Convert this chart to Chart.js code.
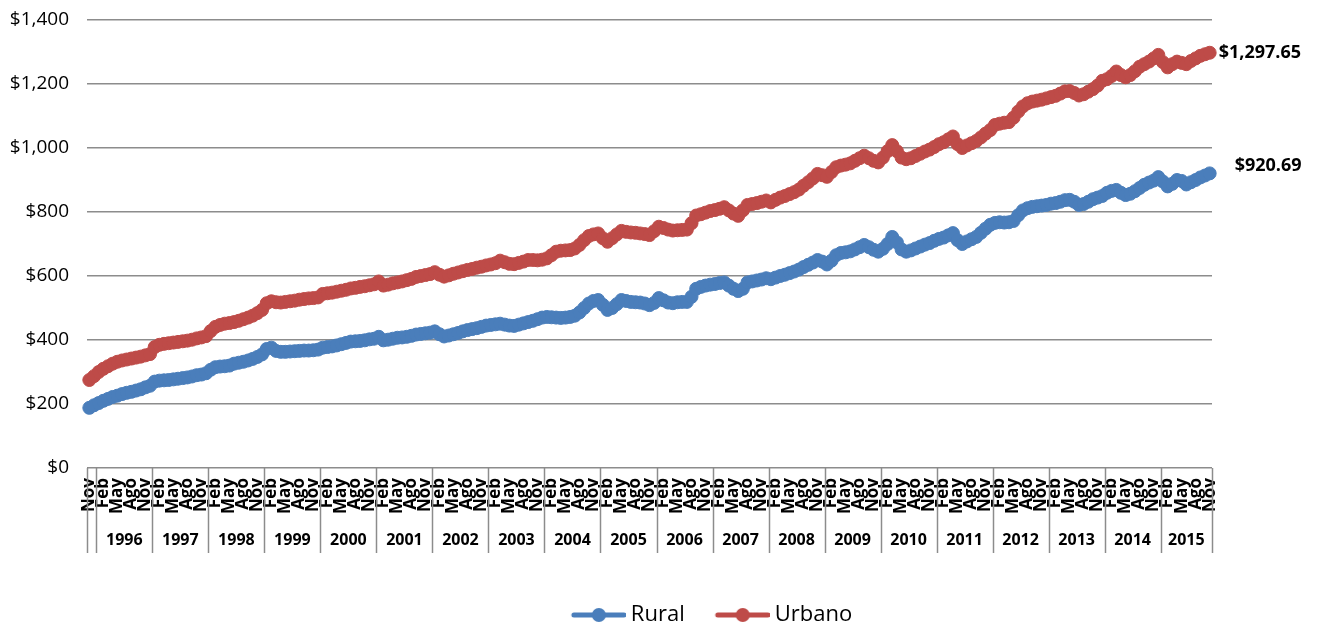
<!DOCTYPE html>
<html>
<head>
<meta charset="utf-8">
<script src="https://cdn.jsdelivr.net/npm/chart.js@4.4.1/dist/chart.umd.min.js"></script>
<style>
  body { margin: 0; background: #fff; }
  canvas { display: block; }
</style>
</head>
<body>
<canvas id="chart" width="1319" height="626"></canvas>
<script>
// --- Rural vs Urbano, monthly Nov 1995 - Nov 2015 ---

const monthNames = ['Ene', 'Feb', 'Mar', 'Abr', 'May', 'Jun', 'Jul', 'Ago', 'Sep', 'Oct', 'Nov', 'Dic'];
const years = ['1996', '1997', '1998', '1999', '2000', '2001', '2002', '2003', '2004', '2005',
               '2006', '2007', '2008', '2009', '2010', '2011', '2012', '2013', '2014', '2015'];

const rural = [
    188, 196, // 1995 Nov-Dic
    203, 210, 216, 222, 226, 231, 235, 238, 242, 246, 252, 257, // 1996
    270, 273, 274, 275, 277, 279, 281, 283, 286, 290, 292, 296, // 1997
    307, 315, 317, 318, 320, 326, 329, 332, 336, 341, 347, 355, // 1998
    372, 376, 366, 363, 363, 364, 365, 366, 367, 367, 368, 370, // 1999
    376, 378, 380, 383, 387, 391, 395, 396, 397, 399, 402, 404, // 2000
    410, 399, 401, 404, 407, 408, 410, 413, 417, 419, 421, 423, // 2001
    427, 418, 411, 414, 418, 422, 427, 431, 434, 437, 441, 445, // 2002
    447, 449, 451, 448, 445, 444, 448, 452, 456, 460, 465, 470, // 2003
    472, 471, 470, 469, 470, 472, 476, 486, 500, 514, 522, 525, // 2004
    510, 494, 500, 512, 525, 522, 519, 518, 517, 514, 509, 516, // 2005
    531, 524, 517, 515, 518, 519, 519, 535, 560, 566, 570, 573, // 2006
    575, 578, 580, 570, 560, 553, 560, 580, 583, 586, 589, 593, // 2007
    590, 595, 600, 604, 609, 614, 620, 628, 635, 642, 650, 645, // 2008
    636, 648, 665, 672, 674, 677, 683, 690, 697, 690, 682, 676, // 2009
    685, 700, 722, 705, 683, 676, 680, 686, 692, 698, 703, 710, // 2010
    716, 720, 727, 734, 712, 700, 708, 715, 722, 735, 748, 760, // 2011
    766, 768, 767, 768, 772, 790, 805, 812, 816, 818, 820, 822, // 2012
    826, 828, 832, 837, 838, 832, 822, 825, 832, 840, 845, 850, // 2013
    860, 866, 869, 860, 853, 857, 865, 875, 885, 892, 898, 909, // 2014
    895, 880, 888, 900, 897, 886, 893, 900, 908, 914, 920.69      // 2015 Ene-Nov
];

const urbano = [
    275, 287, // 1995 Nov-Dic
    300, 310, 318, 326, 332, 336, 339, 342, 345, 348, 352, 356, // 1996
    378, 385, 388, 390, 392, 394, 396, 398, 401, 405, 408, 412, // 1997
    428, 441, 447, 451, 453, 456, 460, 465, 470, 476, 484, 494, // 1998
    515, 521, 518, 517, 519, 521, 523, 526, 528, 530, 531, 533, // 1999
    544, 546, 548, 551, 554, 557, 561, 563, 566, 568, 571, 574, // 2000
    583, 570, 573, 577, 580, 583, 587, 591, 597, 600, 603, 606, // 2001
    612, 604, 598, 602, 607, 611, 615, 619, 622, 626, 629, 633, // 2002
    636, 640, 648, 643, 638, 637, 641, 645, 650, 650, 649, 651, // 2003
    655, 665, 676, 679, 680, 681, 686, 697, 712, 725, 730, 733, // 2004
    718, 707, 718, 730, 741, 738, 736, 735, 733, 731, 728, 740, // 2005
    754, 750, 745, 742, 743, 744, 745, 765, 789, 793, 798, 803, // 2006
    806, 810, 815, 805, 795, 788, 805, 822, 825, 828, 832, 836, // 2007
    830, 838, 845, 850, 856, 862, 870, 882, 893, 905, 919, 915, // 2008
    910, 925, 940, 945, 948, 952, 960, 968, 976, 968, 960, 955, // 2009
    970, 990, 1009, 990, 970, 965, 968, 975, 982, 989, 995, 1003, // 2010
    1012, 1018, 1027, 1036, 1012, 1000, 1008, 1015, 1022, 1033, 1045, 1056, // 2011
    1072, 1076, 1079, 1081, 1095, 1114, 1130, 1140, 1145, 1148, 1151, 1155, // 2012
    1159, 1163, 1170, 1177, 1178, 1172, 1164, 1168, 1176, 1184, 1195, 1210, // 2013
    1215, 1225, 1239, 1228, 1221, 1228, 1240, 1254, 1262, 1270, 1280, 1291, // 2014
    1268, 1252, 1262, 1270, 1266, 1262, 1272, 1280, 1288, 1293, 1297.65     // 2015 Ene-Nov
];

// month labels, starting at Nov 1995
const labels = rural.map((_, k) => monthNames[(10 + k) % 12]);

const BLUE = '#4A7EBB';
const RED = '#BE4B48';
const GRID = '#8c8c8c';
const FONT = '"Open Sans", "Noto Sans", sans-serif';

// legend marker: line with a dot in the middle
function legendMarker(color) {
    const c = document.createElement('canvas');
    c.width = 60;
    c.height = 16;
    const g = c.getContext('2d');
    g.strokeStyle = color;
    g.lineWidth = 5;
    g.lineCap = 'round';
    g.beginPath();
    g.moveTo(8, 8);
    g.lineTo(58, 8);
    g.stroke();
    g.fillStyle = color;
    g.beginPath();
    g.arc(33, 8, 7, 0, Math.PI * 2);
    g.fill();
    return c;
}

// year row under the month labels + separators
const yearAxisPlugin = {
    id: 'yearAxis',
    afterDraw(chart) {
        const ctx = chart.ctx;
        const xs = chart.scales.x;
        const top = chart.chartArea.bottom;
        const bottom = top + 85;
        const step = xs.getPixelForValue(1) - xs.getPixelForValue(0);
        const edge = i => xs.getPixelForValue(i) - step / 2;

        ctx.save();
        ctx.strokeStyle = GRID;
        ctx.lineWidth = 1.5;
        const bounds = [0];
        years.forEach((y, n) => bounds.push(2 + n * 12));
        bounds.push(labels.length);
        bounds.forEach(i => {
            const x = Math.round(edge(i)) + 0.5;
            ctx.beginPath();
            ctx.moveTo(x, top);
            ctx.lineTo(x, bottom);
            ctx.stroke();
        });

        ctx.fillStyle = '#000';
        ctx.font = 'bold 16px ' + FONT;
        ctx.textAlign = 'center';
        ctx.textBaseline = 'middle';
        years.forEach((y, n) => {
            const a = 2 + n * 12;
            const b = Math.min(a + 12, labels.length);
            ctx.fillText(y, (edge(a) + edge(b)) / 2, top + 72);
        });
        ctx.restore();
    }
};

// value labels at the last point of each line
const endLabelPlugin = {
    id: 'endLabels',
    afterDatasetsDraw(chart) {
        const ctx = chart.ctx;
        const offsets = [[25, -8], [9, 0]];
        ctx.save();
        ctx.font = 'bold 18px ' + FONT;
        ctx.fillStyle = '#000';
        ctx.textAlign = 'left';
        ctx.textBaseline = 'middle';
        chart.data.datasets.forEach((ds, d) => {
            const meta = chart.getDatasetMeta(d);
            const pt = meta.data[meta.data.length - 1];
            const v = ds.data[ds.data.length - 1];
            const txt = '$' + v.toLocaleString('en-US', { minimumFractionDigits: 2, maximumFractionDigits: 2 });
            ctx.fillText(txt, pt.x + offsets[d][0], pt.y + offsets[d][1]);
        });
        ctx.restore();
    }
};

// move the legend where the original sits
const legendShiftPlugin = {
    id: 'legendShift',
    afterLayout(chart) {
        const lg = chart.legend;
        if (!lg) return;
        lg.left += 106;
        lg.right += 106;
        lg.top += 10;
        lg.bottom += 10;
    }
};

new Chart(document.getElementById('chart'), {
    type: 'line',
    data: {
        labels: labels,
        datasets: [
            {
                label: 'Rural',
                data: rural,
                borderColor: BLUE,
                backgroundColor: BLUE,
                borderWidth: 6,
                pointRadius: 6.5,
                pointBorderWidth: 1,
                pointBackgroundColor: BLUE,
                pointBorderColor: BLUE,
                tension: 0
            },
            {
                label: 'Urbano',
                data: urbano,
                borderColor: RED,
                backgroundColor: RED,
                borderWidth: 6,
                pointRadius: 6.5,
                pointBorderWidth: 1,
                pointBackgroundColor: RED,
                pointBorderColor: RED,
                tension: 0
            }
        ]
    },
    options: {
        responsive: false,
        animation: false,
        devicePixelRatio: 1,
        layout: { padding: { top: 20, right: 107, bottom: 0, left: 0 } },
        scales: {
            x: {
                type: 'category',
                offset: true,
                grid: { display: false, drawTicks: false },
                border: { display: false },
                ticks: {
                    autoSkip: false,
                    minRotation: 90,
                    maxRotation: 90,
                    padding: 10,
                    color: '#000',
                    font: { family: FONT, size: 17, weight: 'bold' },
                    callback: (v, i) => (i % 3 === 0 ? labels[i] : '')
                },
                afterFit: s => { s.height = 95; }
            },
            y: {
                min: 0,
                max: 1400,
                grid: { color: GRID, lineWidth: 1.5, drawTicks: false },
                border: { display: false },
                ticks: {
                    stepSize: 200,
                    padding: 18,
                    color: '#000',
                    font: { family: FONT, size: 19 },
                    callback: v => '$' + v.toLocaleString('en-US')
                },
                afterFit: s => {
                    s.width = 87;
                    s.paddingTop = 0;
                    s.paddingBottom = 0;
                }
            }
        },
        plugins: {
            legend: {
                position: 'bottom',
                labels: {
                    usePointStyle: true,
                    pointStyleWidth: 48,
                    padding: 31,
                    color: '#000',
                    font: { family: FONT, size: 22 },
                    generateLabels: chart => chart.data.datasets.map((ds, i) => ({
                        text: ds.label,
                        pointStyle: legendMarker(ds.borderColor),
                        fillStyle: ds.borderColor,
                        strokeStyle: ds.borderColor,
                        lineWidth: 0,
                        hidden: false,
                        datasetIndex: i,
                        fontColor: '#000'
                    }))
                }
            },
            tooltip: { enabled: false }
        }
    },
    plugins: [yearAxisPlugin, endLabelPlugin, legendShiftPlugin]
});
</script>
</body>
</html>
